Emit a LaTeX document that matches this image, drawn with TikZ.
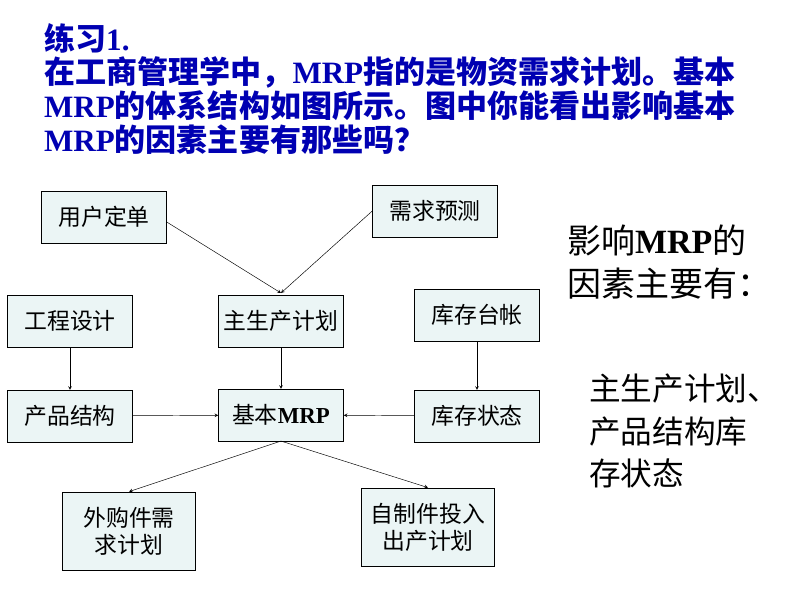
\documentclass[tikz,border=0pt]{standalone}
\usepackage{fontspec}
\setmainfont{Liberation Serif}
\newfontfamily\cjk{Noto Sans CJK SC}
\newcommand{\mrp}{\textrm{\bfseries MRP}}
\begin{document}
\begin{tikzpicture}[x=0.03cm,y=-0.03cm,
    box/.style={draw,fill=teal!8,font=\cjk\fontsize{19.5}{23}\selectfont,minimum width=3.75cm,minimum height=1.55cm,align=center,inner sep=1pt},
    tall/.style={box,minimum width=4cm,minimum height=2.35cm},
    arr/.style={->,>=stealth}]
   \path[fill=white] (0,0) rectangle (794,596);
   % title
   \node[anchor=west,text=blue!70!black,font=\cjk\bfseries\fontsize{26.5}{29}\selectfont,align=left] (title) at (40,89)
     {练习\textrm{\bfseries 1.}\\在工商管理学中，\mrp 指的是物资需求计划。基本\\\mrp 的体系结构如图所示。图中你能看出影响基本\\\mrp 的因素主要有那些吗？};
   % boxes
   \node[box] (yh) at (104,217) {用户定单};
   \node[box] (xq) at (435,211) {需求预测};
   \node[box] (gc) at (70,321) {工程设计};
   \node[box] (zsc) at (281,321) {主生产计划};
   \node[box] (kctz) at (477,315) {库存台帐};
   \node[box] (cp) at (70,416) {产品结构};
   \node[box] (mrp) at (281,415) {基本\mrp};
   \node[box] (kczt) at (477,416) {库存状态};
   \node[tall] (wg) at (129,531) {外购件需\\求计划};
   \node[tall] (zz) at (428,527) {自制件投入\\出产计划};
   % arrows
   \coordinate (m) at (281,293);
   \draw[arr] (yh.east) ++(0,5) -- (m);
   \draw[arr] (xq.west) -- (m);
   \draw[arr] (gc) -- (cp);
   \draw[arr] (zsc) -- (mrp);
   \draw[arr] (kctz) -- (kczt);
   \draw[arr] (cp) -- (mrp);
   \draw[arr] (kczt) -- (mrp);
   \draw[arr] (mrp.south) -- (wg.north);
   \draw[arr] (mrp.south) -- (zz.north);
   % answer
   \node[anchor=west,font=\cjk\fontsize{29}{37}\selectfont,align=left] (q) at (563,262) {影响\mrp 的\\因素主要有：};
   \node[anchor=west,font=\cjk\fontsize{27}{36}\selectfont,align=left] (a) at (585,431) {主生产计划、\\产品结构库\\存状态};
\end{tikzpicture}
\end{document}
